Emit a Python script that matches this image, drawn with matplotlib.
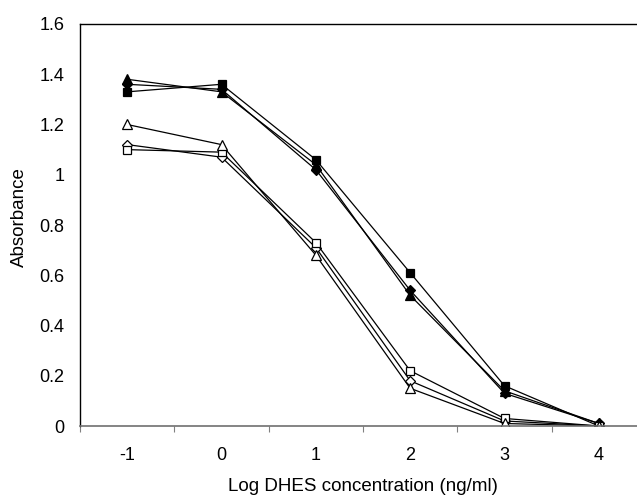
import matplotlib.pyplot as plt
import numpy as np

plt.rcParams['font.family'] = ['Liberation Sans', 'DejaVu Sans']

categories = ["-1", "0", "1", "2", "3", "4"]

filled_diamond = [1.36, 1.34, 1.02, 0.54, 0.13, 0.01]
filled_square = [1.33, 1.36, 1.06, 0.61, 0.16, 0.00]
filled_triangle = [1.38, 1.33, 1.04, 0.52, 0.14, 0.01]
open_diamond = [1.12, 1.07, 0.71, 0.18, 0.02, 0.00]
open_square = [1.10, 1.09, 0.73, 0.22, 0.03, 0.00]
open_triangle = [1.20, 1.12, 0.68, 0.15, 0.01, 0.00]

series = [
    (filled_diamond, "D", "black", 5.5),
    (filled_square, "s", "black", 6),
    (filled_triangle, "^", "black", 6.5),
    (open_diamond, "D", "white", 5.5),
    (open_square, "s", "white", 6),
    (open_triangle, "^", "white", 6.5),
]

fs = 13

fig = plt.figure(figsize=(6.37, 4.98), dpi=100)
ax = fig.add_axes([80 / 637, 72 / 498, 566 / 637, 402 / 498])

x = np.arange(len(categories))
for vals, m, fc, ms in series:
    ax.plot(x, vals, color="black", lw=0.9, marker=m, markersize=ms,
            markerfacecolor=fc, markeredgecolor="black", markeredgewidth=0.9)

ax.set_xlim(-0.5, len(categories) - 0.5)
ax.set_ylim(0, 1.6)

# category labels centred, tick marks on category boundaries
ax.set_xticks(np.arange(-0.5, len(categories), 1.0))
ax.set_xticklabels([])
ax.set_xticks(x, minor=True)
ax.set_xticklabels(categories, minor=True)
ax.tick_params(axis="x", which="major", length=4, width=0.8, color="#808080", direction="out")
ax.tick_params(axis="x", which="minor", length=0, pad=15, labelsize=fs)

ax.set_yticks(np.arange(0, 1.61, 0.2))
ax.set_yticklabels(["0", "0.2", "0.4", "0.6", "0.8", "1", "1.2", "1.4", "1.6"])
ax.tick_params(axis="y", length=0, pad=11, labelsize=fs)

for s in ["top", "left"]:
    ax.spines[s].set_color("black")
    ax.spines[s].set_linewidth(1.0)
ax.spines["bottom"].set_color("#707070")
ax.spines["bottom"].set_linewidth(1.2)
ax.spines["right"].set_visible(False)

ax.set_xlabel("Log DHES concentration (ng/ml)", fontsize=13.5, labelpad=10)
ax.set_ylabel("Absorbance", fontsize=13.5)
ax.yaxis.set_label_coords(-0.092, 0.52)

fig.savefig("out.png", dpi=100)
